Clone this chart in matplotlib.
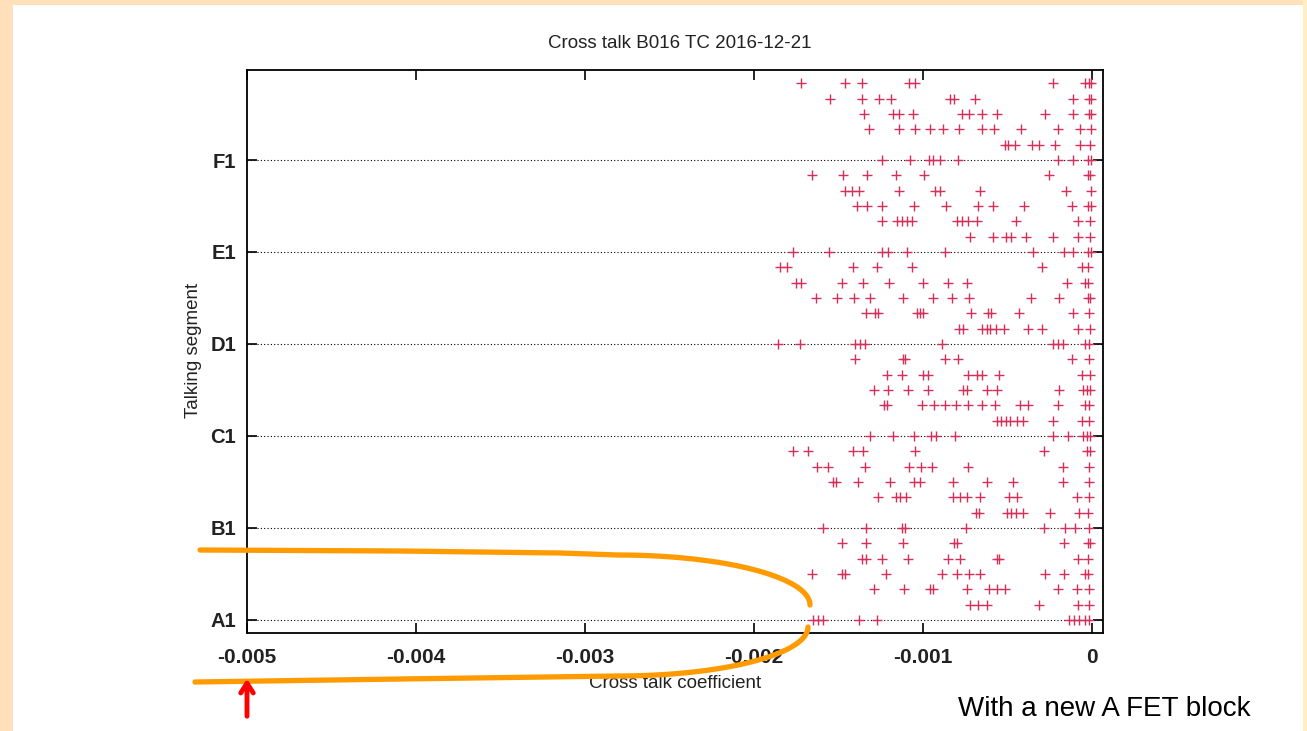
import matplotlib.pyplot as plt
import matplotlib.patches as patches
import numpy as np

plt.rcParams['font.family'] = ['Liberation Sans', 'DejaVu Sans']

# cross talk coefficients in units of 1e-3, six rows per talking segment (bottom row first)
seg_A1 = [
    [-1.649, -1.619, -1.594, -1.377, -1.270, -0.134, -0.106, -0.075, -0.041, -0.016],
    [-0.722, -0.673, -0.623, -0.312, -0.081, -0.016],
    [-1.290, -1.112, -0.959, -0.939, -0.742, -0.607, -0.560, -0.515, -0.199, -0.091, -0.016],
    [-1.659, -1.481, -1.462, -1.219, -0.890, -0.797, -0.726, -0.663, -0.278, -0.166, -0.041, -0.022],
    [-1.363, -1.337, -1.245, -1.087, -0.850, -0.781, -0.564, -0.548, -0.081, -0.022],
    [-1.481, -1.337, -1.116, -0.815, -0.797, -0.166, -0.022, -0.012],
]
seg_B1 = [
    [-1.590, -1.337, -1.126, -1.107, -0.746, -0.284, -0.160, -0.101, -0.016],
    [-0.686, -0.667, -0.505, -0.481, -0.450, -0.406, -0.249, -0.075, -0.022],
    [-1.264, -1.160, -1.136, -1.101, -0.821, -0.781, -0.742, -0.663, -0.489, -0.446, -0.091, -0.016],
    [-1.535, -1.515, -1.383, -1.195, -1.053, -1.018, -0.821, -0.623, -0.465, -0.174, -0.016],
    [-1.625, -1.560, -1.343, -1.081, -1.014, -0.949, -0.732, -0.170, -0.016],
    [-1.771, -1.678, -1.416, -1.353, -1.047, -0.284, -0.032, -0.012],
]
seg_C1 = [
    [-1.314, -1.176, -1.053, -0.955, -0.923, -0.811, -0.233, -0.140, -0.055, -0.032, -0.012],
    [-0.564, -0.540, -0.509, -0.485, -0.442, -0.406, -0.229, -0.061, -0.016],
    [-1.231, -1.211, -1.008, -0.935, -0.870, -0.805, -0.732, -0.653, -0.574, -0.426, -0.377, -0.199, -0.041, -0.016],
    [-1.290, -1.205, -1.087, -0.968, -0.761, -0.742, -0.623, -0.564, -0.193, -0.055, -0.032, -0.012],
    [-1.215, -1.126, -1.002, -0.968, -0.732, -0.682, -0.653, -0.548, -0.061, -0.012],
    [-1.402, -1.120, -1.108, -0.870, -0.791, -0.120, -0.016],
]
seg_D1 = [
    [-1.856, -1.728, -1.402, -1.373, -1.343, -0.890, -0.233, -0.203, -0.174, -0.041, -0.016],
    [-0.785, -0.765, -0.653, -0.623, -0.604, -0.568, -0.521, -0.377, -0.298, -0.081, -0.012],
    [-1.337, -1.284, -1.264, -1.034, -1.018, -0.998, -0.718, -0.613, -0.600, -0.430, -0.110, -0.016],
    [-1.633, -1.507, -1.406, -1.314, -1.120, -0.943, -0.830, -0.726, -0.363, -0.193, -0.022, -0.012],
    [-1.751, -1.724, -1.481, -1.357, -1.199, -1.002, -0.850, -0.742, -0.150, -0.041, -0.022],
    [-1.846, -1.803, -1.412, -1.274, -1.067, -0.298, -0.061, -0.022],
]
seg_E1 = [
    [-1.771, -1.554, -1.245, -1.205, -1.097, -0.870, -0.347, -0.166, -0.114, -0.022, -0.006],
    [-0.722, -0.584, -0.509, -0.481, -0.391, -0.229, -0.081, -0.012],
    [-1.245, -1.152, -1.126, -1.097, -1.067, -0.801, -0.771, -0.732, -0.682, -0.450, -0.081, -0.012],
    [-1.393, -1.329, -1.245, -1.053, -0.864, -0.673, -0.584, -0.400, -0.120, -0.022, -0.006],
    [-1.462, -1.422, -1.377, -1.140, -0.929, -0.899, -0.663, -0.154, -0.006],
    [-1.659, -1.475, -1.333, -1.160, -0.994, -0.252, -0.022, -0.012],
]
seg_F1 = [
    [-1.245, -1.077, -0.962, -0.939, -0.899, -0.791, -0.199, -0.114, -0.022, -0.006],
    [-0.515, -0.495, -0.455, -0.357, -0.312, -0.219, -0.071, -0.012],
    [-1.32, -1.14, -1.05, -0.96, -0.88, -0.79, -0.65, -0.58, -0.42, -0.20, -0.07, -0.006],
    [-1.35, -1.18, -1.14, -1.06, -0.77, -0.73, -0.65, -0.56, -0.28, -0.11, -0.02, -0.006],
    [-1.55, -1.36, -1.26, -1.19, -0.84, -0.815, -0.69, -0.11, -0.015, -0.005],
    [-1.72, -1.46, -1.36, -1.08, -1.05, -0.23, -0.04, -0.02, -0.005],
]
segments = ['A1', 'B1', 'C1', 'D1', 'E1', 'F1']
seg_data = [seg_A1, seg_B1, seg_C1, seg_D1, seg_E1, seg_F1]
x_ticks = [-0.005, -0.004, -0.003, -0.002, -0.001, 0]
x_labels = ['-0.005', '-0.004', '-0.003', '-0.002', '-0.001', '0']

W, H = 1307, 731
fig = plt.figure(figsize=(W / 100, H / 100), dpi=100)
fig.patch.set_facecolor('#FFE0BA')

# slide background: white page inside a peach/yellow border
bg = fig.add_axes([0, 0, 1, 1], zorder=-5)
bg.set_xlim(0, W)
bg.set_ylim(H, 0)
bg.axis('off')
bg.add_patch(patches.Rectangle((13, 5), 1290, 726, facecolor='white', edgecolor='none'))
bg.add_patch(patches.Rectangle((1303, 0), 4, H, facecolor='#FFEFC2', edgecolor='none'))

ax = fig.add_axes([247 / W, (H - 633) / H, 856 / W, 563 / H], zorder=1)
ax.set_facecolor('white')

xs, ys = [], []
for s, rows in enumerate(seg_data):
    for r, row in enumerate(rows):
        for v in row:
            xs.append(v * 1e-3)
            ys.append(s * 6 + r)
ax.plot(xs, ys, linestyle='none', marker='+', markersize=7, markeredgewidth=1.0,
        color='#D3305A')

ax.set_xlim(-0.005, 0.000065)
ax.set_ylim(-0.85, 35.87)
ax.set_xticks(x_ticks)
ax.set_xticklabels(x_labels, fontsize=15, fontweight='bold', color='#222222')
ax.set_yticks([i * 6 for i in range(6)])
ax.set_yticklabels(segments, fontsize=14.5, fontweight='bold', color='#222222')
ax.tick_params(direction='in', length=7, width=1.2, top=True, right=True)
ax.tick_params(axis='x', pad=11)
ax.tick_params(axis='y', pad=8)
ax.grid(axis='y', linestyle=(0, (1, 2)), color='black', linewidth=0.8)
ax.set_axisbelow(True)
for sp in ax.spines.values():
    sp.set_linewidth(1.3)

fig.text(680 / W, 1 - 43 / H, 'Cross talk B016 TC 2016-12-21', ha='center', va='center',
         fontsize=13.5, color='#222222')
fig.text(675 / W, 1 - 684 / H, 'Cross talk coefficient', ha='center', va='center',
         fontsize=13.5, color='#222222')
fig.text(193 / W, 1 - 350 / H, 'Talking segment', ha='center', va='center',
         rotation=90, fontsize=13.5, color='#222222')
fig.text(958 / W, 1 - 709 / H, 'With a new A FET block', ha='left', va='center',
         fontsize=20, color='black')

# hand-drawn annotation overlay in pixel coordinates
ov = fig.add_axes([0, 0, 1, 1], facecolor='none', zorder=5)
ov.set_xlim(0, W)
ov.set_ylim(H, 0)
ov.axis('off')
t = np.linspace(0, np.pi / 2, 50)
upper_x = [200, 400, 560] + list(618 + 192 * np.sin(t))
upper_y = [550, 551, 553] + list(605 - 50 * np.cos(t))
ov.plot(upper_x, upper_y, color='#FF9A00', linewidth=3.8, solid_capstyle='round')
lower_x = list(618 + 190 * np.cos(t)) + [400, 195]
lower_y = list(627 + 49 * np.sin(t)) + [679, 682]
ov.plot(lower_x, lower_y, color='#FF9A00', linewidth=3.8, solid_capstyle='round')
ov.annotate('', xy=(247, 676), xytext=(247, 719),
            arrowprops=dict(arrowstyle='->,head_length=0.7,head_width=0.45',
                            color='#FF0000', lw=3.5, capstyle='round'))

fig.savefig('out.png', dpi=100, facecolor=fig.get_facecolor())
